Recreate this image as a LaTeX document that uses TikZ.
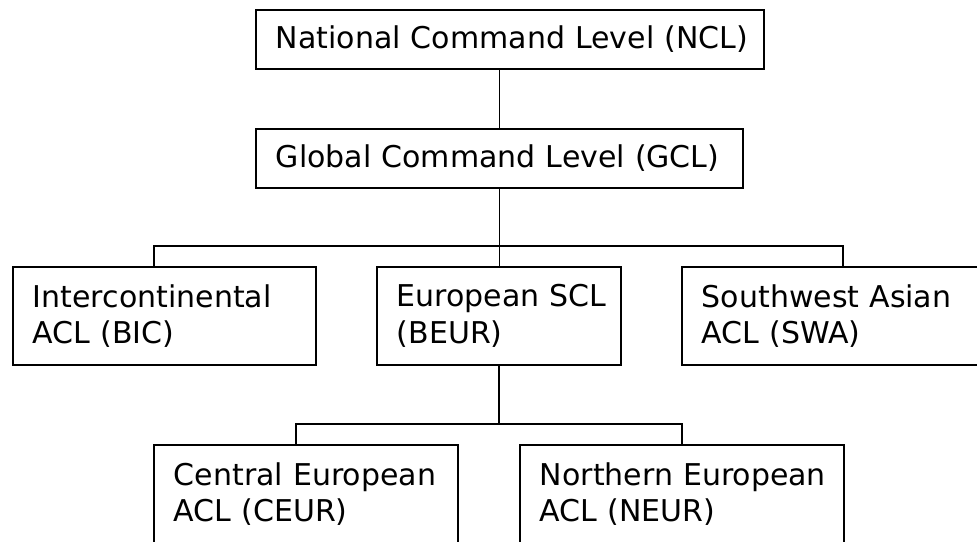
\documentclass[tikz,border=0pt]{standalone}
\usepackage{fontspec}
\setmainfont{DejaVu Sans}
\begin{document}
\begin{tikzpicture}[x=1pt,y=-1pt]
\tikzset{
  box/.style={draw, line width=1.8pt, anchor=north west, align=left,
    inner xsep=20pt, inner ysep=0pt, font=\fontsize{30}{36.5}\selectfont},
  link/.style={line width=1.8pt}
}
\fill[white] (0,0) rectangle (977,541);
\useasboundingbox (0,0) rectangle (977,541);
\clip (0,0) rectangle (977,541);

\node[box, minimum height=59pt, text width=468pt] (ncl) at (255,9) {\mbox{National Command Level (NCL)}};
\node[box, minimum height=59pt, text width=447pt] (gcl) at (255,128) {\mbox{Global Command Level (GCL)}};

\node[box, minimum height=98pt, text width=263pt] (bic) at (12,266) {\mbox{Intercontinental}\\\mbox{ACL (BIC)}};
\node[box, minimum height=98pt, text width=204pt] (beur) at (376,266) {\mbox{European SCL}\\\mbox{(BEUR)}};
\node[box, minimum height=98pt, text width=284pt] (swa) at (681,266) {\mbox{Southwest Asian}\\\mbox{ACL (SWA)}};

\node[box, minimum height=98pt, text width=264pt] (ceur) at (153,444) {\mbox{Central European}\\\mbox{ACL (CEUR)}};
\node[box, minimum height=98pt, text width=284pt] (neur) at (519,444) {\mbox{Northern European}\\\mbox{ACL (NEUR)}};

\coordinate (j1l) at (154,246);
\coordinate (j1r) at (843,246);
\coordinate (j2l) at (296,424);
\coordinate (j2r) at (682,424);

\draw[link] (ncl.south -| gcl.north) -- (gcl.north);
\draw[link] (gcl.south) -- (beur.north -| gcl.south);
\draw[link] (bic.north -| j1l) -- (j1l) -- (j1r) -- (swa.north -| j1r);
\draw[link] (beur.south) -- (beur.south |- j2l);
\draw[link] (ceur.north -| j2l) -- (j2l) -- (j2r) -- (neur.north -| j2r);
\end{tikzpicture}
\end{document}
